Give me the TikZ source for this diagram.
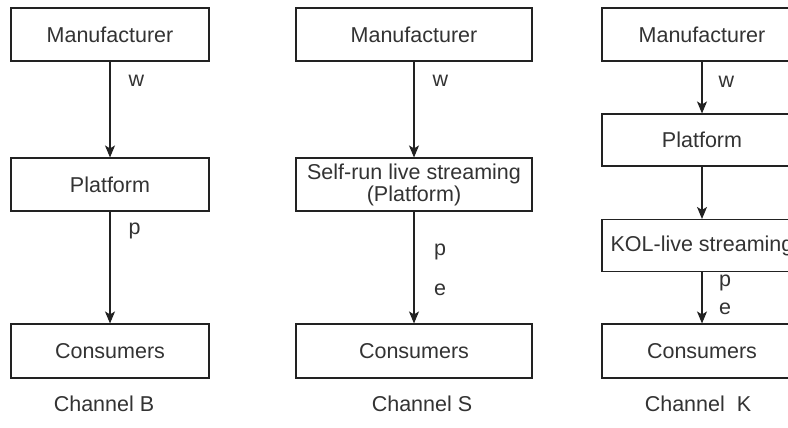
\documentclass[tikz,border=0pt]{standalone}
\usepackage{fontspec}
\setmainfont{Liberation Sans}
\usetikzlibrary{arrows.meta}
\definecolor{txt}{HTML}{333333}
\definecolor{ln}{HTML}{222222}
\tikzset{
  box/.style={draw=ln, line width=1.1pt, fill=white, inner sep=0pt, text=txt,
    font=\fontsize{21.5}{22}\selectfont, align=center},
  lbl/.style={text=txt, font=\fontsize{21.5}{22}\selectfont, inner sep=0pt},
  arr/.style={draw=ln, line width=1.1pt, -{Stealth[length=12pt,width=10pt,inset=3pt]}}
}
\begin{document}
\begin{tikzpicture}[x=1pt,y=-1pt]
\useasboundingbox (0,0) rectangle (788,428);
\clip (0,0) rectangle (788,428);
\fill[white] (0,0) rectangle (788,428);
% Channel B
\node[box, minimum width=198pt, minimum height=53pt] (m1) at (110,34.5) {Manufacturer};
\node[box, minimum width=198pt, minimum height=53pt] (p1) at (110,184.5) {Platform};
\node[box, minimum width=198pt, minimum height=54pt] (c1) at (110,351) {Consumers};
\node[lbl] (ch1) at (104,404) {Channel B};
\draw[arr] (m1) -- (p1) node[lbl, pos=0.2, right=18pt] (w1) {w};
\draw[arr] (p1) -- (c1) node[lbl, pos=0.17, right=18pt] (pp1) {p};
% Channel S
\node[box, minimum width=236pt, minimum height=53pt] (m2) at (414,34.5) {Manufacturer};
\node[box, minimum width=236pt, minimum height=53pt] (p2) at (414,184.5) {Self-run live streaming\\(Platform)};
\node[box, minimum width=236pt, minimum height=54pt] (c2) at (414,351) {Consumers};
\node[lbl] (ch2) at (422,404) {Channel S};
\draw[arr] (m2) -- (p2) node[lbl, pos=0.2, right=18pt] (w2) {w};
\draw[arr] (p2) -- (c2);
\node[lbl] (pp2) at (440,252) {p};
\node[lbl] (e2) at (440,290) {e};
% Channel K
\node[box, minimum width=200pt, minimum height=53pt] (m3) at (702,34.5) {Manufacturer};
\node[box, minimum width=200pt, minimum height=52pt] (p3) at (702,140) {Platform};
\node[box, minimum width=200pt, minimum height=52pt] (k3) at (702,245.5) {KOL-live streaming};
\node[box, minimum width=200pt, minimum height=54pt] (c3) at (702,351) {Consumers};
\node[lbl] (ch3) at (698,404) {Channel\ \ K};
\draw[arr] (m3) -- (p3) node[lbl, pos=0.4, right=16pt] (w3) {w};
\draw[arr] (p3) -- (k3);
\draw[arr] (k3) -- (c3);
\node[lbl] (pp3) at (725,283) {p};
\node[lbl] (e3) at (725,309) {e};
\end{tikzpicture}
\end{document}
